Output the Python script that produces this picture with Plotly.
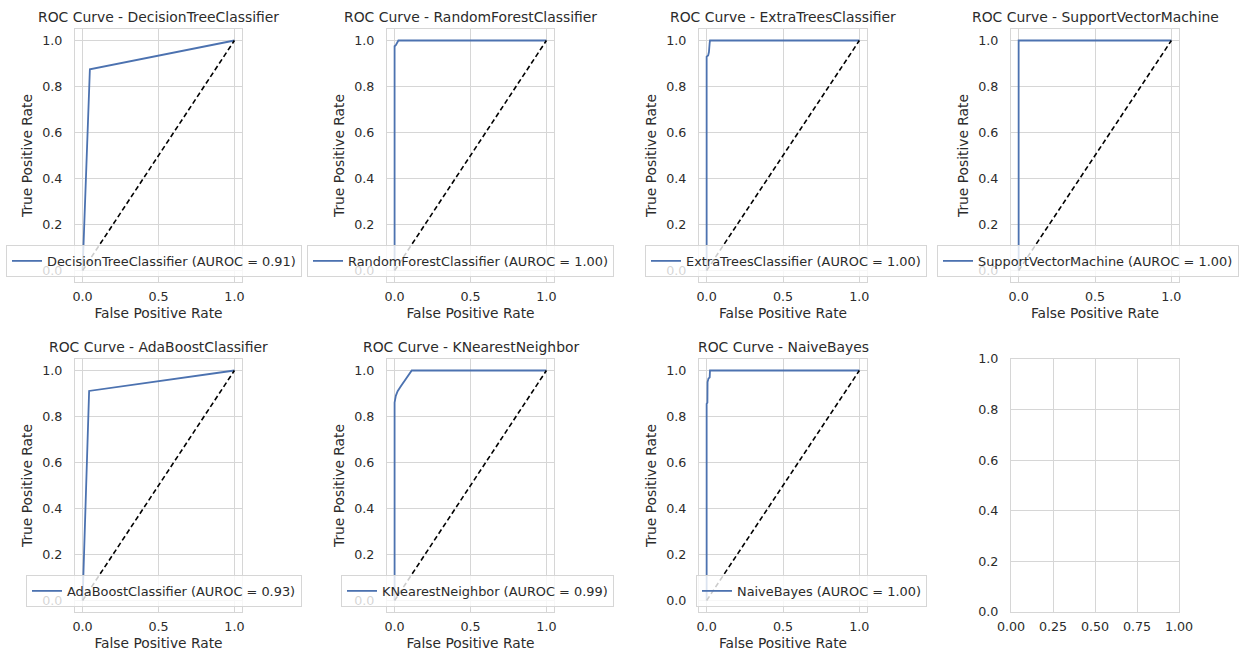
import plotly.graph_objects as go

# ---------------- data ----------------
models = ["DecisionTreeClassifier", "RandomForestClassifier", "ExtraTreesClassifier",
          "SupportVectorMachine", "AdaBoostClassifier", "KNearestNeighbor", "NaiveBayes"]
auroc = ["0.91", "1.00", "1.00", "1.00", "0.93", "0.99", "1.00"]

dt_fpr = [0.0, 0.048, 1.0]
dt_tpr = [0.0, 0.875, 1.0]
rf_fpr = [0.0, 0.0, 0.008, 0.012, 0.02, 0.025, 1.0]
rf_tpr = [0.0, 0.975, 0.98, 0.985, 0.99, 1.0, 1.0]
et_fpr = [0.0, 0.0, 0.01, 0.015, 0.02, 0.022, 1.0]
et_tpr = [0.0, 0.93, 0.935, 0.95, 0.99, 1.0, 1.0]
svm_fpr = [0.0, 0.0, 1.0]
svm_tpr = [0.0, 1.0, 1.0]
ada_fpr = [0.0, 0.043, 1.0]
ada_tpr = [0.0, 0.911, 1.0]
knn_fpr = [0.0, 0.0, 0.008, 0.02, 0.04, 0.113, 1.0]
knn_tpr = [0.0, 0.86, 0.89, 0.91, 0.93, 1.0, 1.0]
nb_fpr = [0.0, 0.0, 0.005, 0.006, 0.012, 0.02, 0.022, 1.0]
nb_tpr = [0.0, 0.855, 0.86, 0.95, 0.965, 0.97, 1.0, 1.0]

curves = [(dt_fpr, dt_tpr), (rf_fpr, rf_tpr), (et_fpr, et_tpr), (svm_fpr, svm_tpr),
          (ada_fpr, ada_tpr), (knn_fpr, knn_tpr), (nb_fpr, nb_tpr)]

diag = [0.0, 1.0]
roc_xticks = [0.0, 0.5, 1.0]
yticks = [0.0, 0.2, 0.4, 0.6, 0.8, 1.0]
empty_xticks = [0.0, 0.25, 0.5, 0.75, 1.0]

# ---------------- layout geometry (pixels) ----------------
W, H = 1248, 658
col_l = [75, 387, 699, 1011]
col_r = [242, 554, 867, 1179]
row_t = [29, 359]
row_b = [282, 612]

FONT = "DejaVu Sans, Liberation Sans, Arial, sans-serif"
TXT = "#2b2b2b"
GRID = "#d6d6d6"
BLUE = "#4C72B0"

fig = go.Figure()
layout = dict(
    width=W, height=H, autosize=False,
    margin=dict(l=0, r=0, t=0, b=0, autoexpand=False),
    paper_bgcolor="white", plot_bgcolor="white",
    font=dict(family=FONT, color=TXT, size=12),
    showlegend=True,
)
annotations = []

def px_x(p):
    return p / W

def px_y(p):
    return 1 - p / H

for i in range(8):
    r, c = divmod(i, 4)
    ax = "" if i == 0 else str(i + 1)
    xdom = [px_x(col_l[c]), px_x(col_r[c])]
    ydom = [px_y(row_b[r]), px_y(row_t[r])]
    is_roc = i < 7
    common = dict(
        showgrid=True, gridcolor=GRID, gridwidth=1,
        showline=True, linecolor=GRID, linewidth=1.2, mirror=True,
        zeroline=False, ticks="", automargin=False,
        tickfont=dict(size=12.7, color=TXT, family=FONT),
        fixedrange=True,
    )
    xa = dict(common, domain=xdom, anchor="y" + ax, ticklabelstandoff=3)
    ya = dict(common, domain=ydom, anchor="x" + ax, ticklabelstandoff=9)
    if is_roc:
        xa.update(range=[-0.05, 1.05], tickvals=roc_xticks, tickformat=".1f",
                  title=dict(text="False Positive Rate", font=dict(size=13.8), standoff=5))
        ya.update(range=[-0.05, 1.05], tickvals=yticks, tickformat=".1f",
                  title=dict(text="True Positive Rate", font=dict(size=13.8), standoff=6))
    else:
        xa.update(range=[0, 1], tickvals=empty_xticks, tickformat=".2f")
        ya.update(range=[0, 1], tickvals=yticks, tickformat=".1f")
    layout["xaxis" + ax] = xa
    layout["yaxis" + ax] = ya

    if is_roc:
        fpr, tpr = curves[i]
        leg = "legend" if i == 0 else "legend" + str(i + 1)
        fig.add_trace(go.Scatter(
            x=fpr, y=tpr, mode="lines",
            line=dict(color=BLUE, width=1.8),
            name=f"{models[i]} (AUROC = {auroc[i]})",
            xaxis="x" + ax, yaxis="y" + ax, legend=leg, showlegend=True,
        ))
        fig.add_trace(go.Scatter(
            x=diag, y=diag, mode="lines",
            line=dict(color="black", width=1.6, dash="5px,3px"),
            xaxis="x" + ax, yaxis="y" + ax, showlegend=False, hoverinfo="skip",
        ))
        layout[leg] = dict(
            x=px_x(col_r[c] + 60), xanchor="right",
            y=px_y(row_b[r] - 5), yanchor="bottom",
            bgcolor="rgba(255,255,255,0.8)", bordercolor="#d6d6d6", borderwidth=1,
            font=dict(size=12.9, color=TXT, family=FONT),
            tracegroupgap=0, itemwidth=30,
        )
        annotations.append(dict(
            text=f"ROC Curve - {models[i]}",
            x=(xdom[0] + xdom[1]) / 2, xref="paper", xanchor="center",
            y=px_y(row_t[r] - 12), yref="paper", yanchor="middle",
            showarrow=False, font=dict(size=13.9, color=TXT, family=FONT),
        ))
    else:
        # empty axes (no data), still drawn
        fig.add_trace(go.Scatter(
            x=[None], y=[None], mode="lines",
            xaxis="x" + ax, yaxis="y" + ax, showlegend=False, hoverinfo="skip",
        ))

layout["annotations"] = annotations
fig.update_layout(**layout)
fig.write_html("out.html",
               config={"displayModeBar": False, "responsive": False},
               post_script="document.body.style.margin='0';document.body.style.overflow='hidden';")
